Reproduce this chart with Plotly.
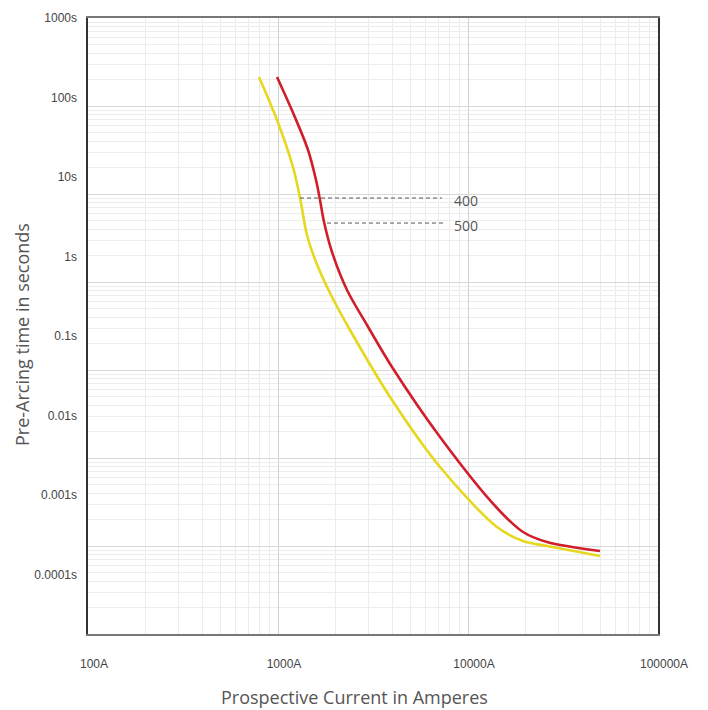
import math
import plotly.graph_objects as go

# ---- data ----
current_400 = [794, 988, 1199, 1306, 1421, 1585, 1878, 2393, 3981, 7123,
               14210, 19480, 26050, 49520]
time_400 = [213.6, 69.3, 20.27, 9.007, 3.42, 1.688, 0.750, 0.2848, 0.0456, 0.0079,
            0.001644, 0.00114, 0.00100, 0.00077]

current_500 = [988, 1214, 1439, 1585, 1664, 1747, 1924, 2308, 2940, 3981, 7123,
               14210, 19480, 26050, 49520]
time_500 = [213.6, 79.0, 31.62, 14.43, 8.551, 4.805, 2.193, 0.811, 0.3245, 0.1082, 0.01733,
            0.002702, 0.001443, 0.00111, 0.000877]

ratings = ["400", "500"]
leader_y = [9.0, 4.68]
leader_x_start = [1306, 1811]
leader_x_end = [7300, 7566]
label_x = [8237, 8237]
label_y = [8.33, 4.44]

x_tick_vals = [100, 1000, 10000, 100000]
x_tick_text = ["100A", "1000A", "10000A", "100000A"]
y_tick_vals = [1000, 100, 10, 1, 0.1, 0.01, 0.001, 0.0001]
y_tick_text = ["1000s", "100s", "10s", "1s", "0.1s", "0.01s", "0.001s", "0.0001s"]

x_title = "Prospective Current in Amperes"
y_title = "Pre-Arcing time in seconds"

YELLOW = "#e6d81c"
RED = "#d01f2a"

fig = go.Figure()

fig.add_trace(go.Scatter(x=current_400, y=time_400, mode="lines",
                         line=dict(color=YELLOW, width=2.6, shape="spline", smoothing=0.9),
                         name="400", showlegend=False, hoverinfo="skip"))
fig.add_trace(go.Scatter(x=current_500, y=time_500, mode="lines",
                         line=dict(color=RED, width=2.6, shape="spline", smoothing=0.9),
                         name="500", showlegend=False, hoverinfo="skip"))

for i, r in enumerate(ratings):
    fig.add_trace(go.Scatter(x=[leader_x_start[i], leader_x_end[i]], y=[leader_y[i], leader_y[i]],
                             mode="lines", line=dict(color="#555", width=1, dash="4px,3px"),
                             showlegend=False, hoverinfo="skip"))
    fig.add_annotation(x=math.log10(label_x[i]), y=math.log10(label_y[i]),
                       xref="x", yref="y", text=r, showarrow=False, xanchor="left", yanchor="middle",
                       font=dict(family="Open Sans", size=14, color="#555"))

# invisible trace on label axis
fig.add_trace(go.Scatter(x=[1000], y=[1], yaxis="y2", mode="markers",
                         marker=dict(opacity=0), showlegend=False, hoverinfo="skip"))

fig.update_layout(
    width=700, height=702,
    margin=dict(l=80, r=50, t=10, b=76, autoexpand=False),
    paper_bgcolor="white", plot_bgcolor="white",
    font=dict(family="Liberation Sans, Arial", size=12, color="#444"),
    xaxis=dict(type="log", range=[2, 5], dtick=1, automargin=False,
               tickvals=x_tick_vals, ticktext=x_tick_text,
               ticks="", ticklabelstandoff=18, ticklabelshift=6,
               showgrid=True, gridcolor="#d2d2d2", gridwidth=1,
               minor=dict(dtick="D1", showgrid=True, gridcolor="#ececec", ticks=""),
               showline=True, linecolor="#777", linewidth=2, mirror=True, zeroline=False),
    yaxis=dict(type="log", range=[-4, 3], dtick=1, automargin=False,
               showticklabels=False, ticks="",
               showgrid=True, gridcolor="#d8d8d8", gridwidth=1,
               minor=dict(dtick="D1", showgrid=True, gridcolor="#ececec", ticks=""),
               showline=True, linecolor="#333", linewidth=2, mirror=True, zeroline=False),
    yaxis2=dict(type="log", range=[-4.748, 3.002], overlaying="y", side="left", anchor="x",
                automargin=False,
                tickvals=y_tick_vals, ticktext=y_tick_text, ticks="",
                ticklabelstandoff=10, showgrid=False, zeroline=False, showline=False),
)

fig.add_annotation(text=x_title, xref="paper", yref="paper", x=0.468, y=-0.102,
                   showarrow=False, xanchor="center", yanchor="middle",
                   font=dict(family="Open Sans", size=18, color="#555"))
fig.add_annotation(text=y_title, xref="paper", yref="paper", x=-0.1158, y=0.487,
                   showarrow=False, xanchor="center", yanchor="middle", textangle=-90,
                   font=dict(family="Open Sans", size=18, color="#555"))

fig.write_html("out.html")
